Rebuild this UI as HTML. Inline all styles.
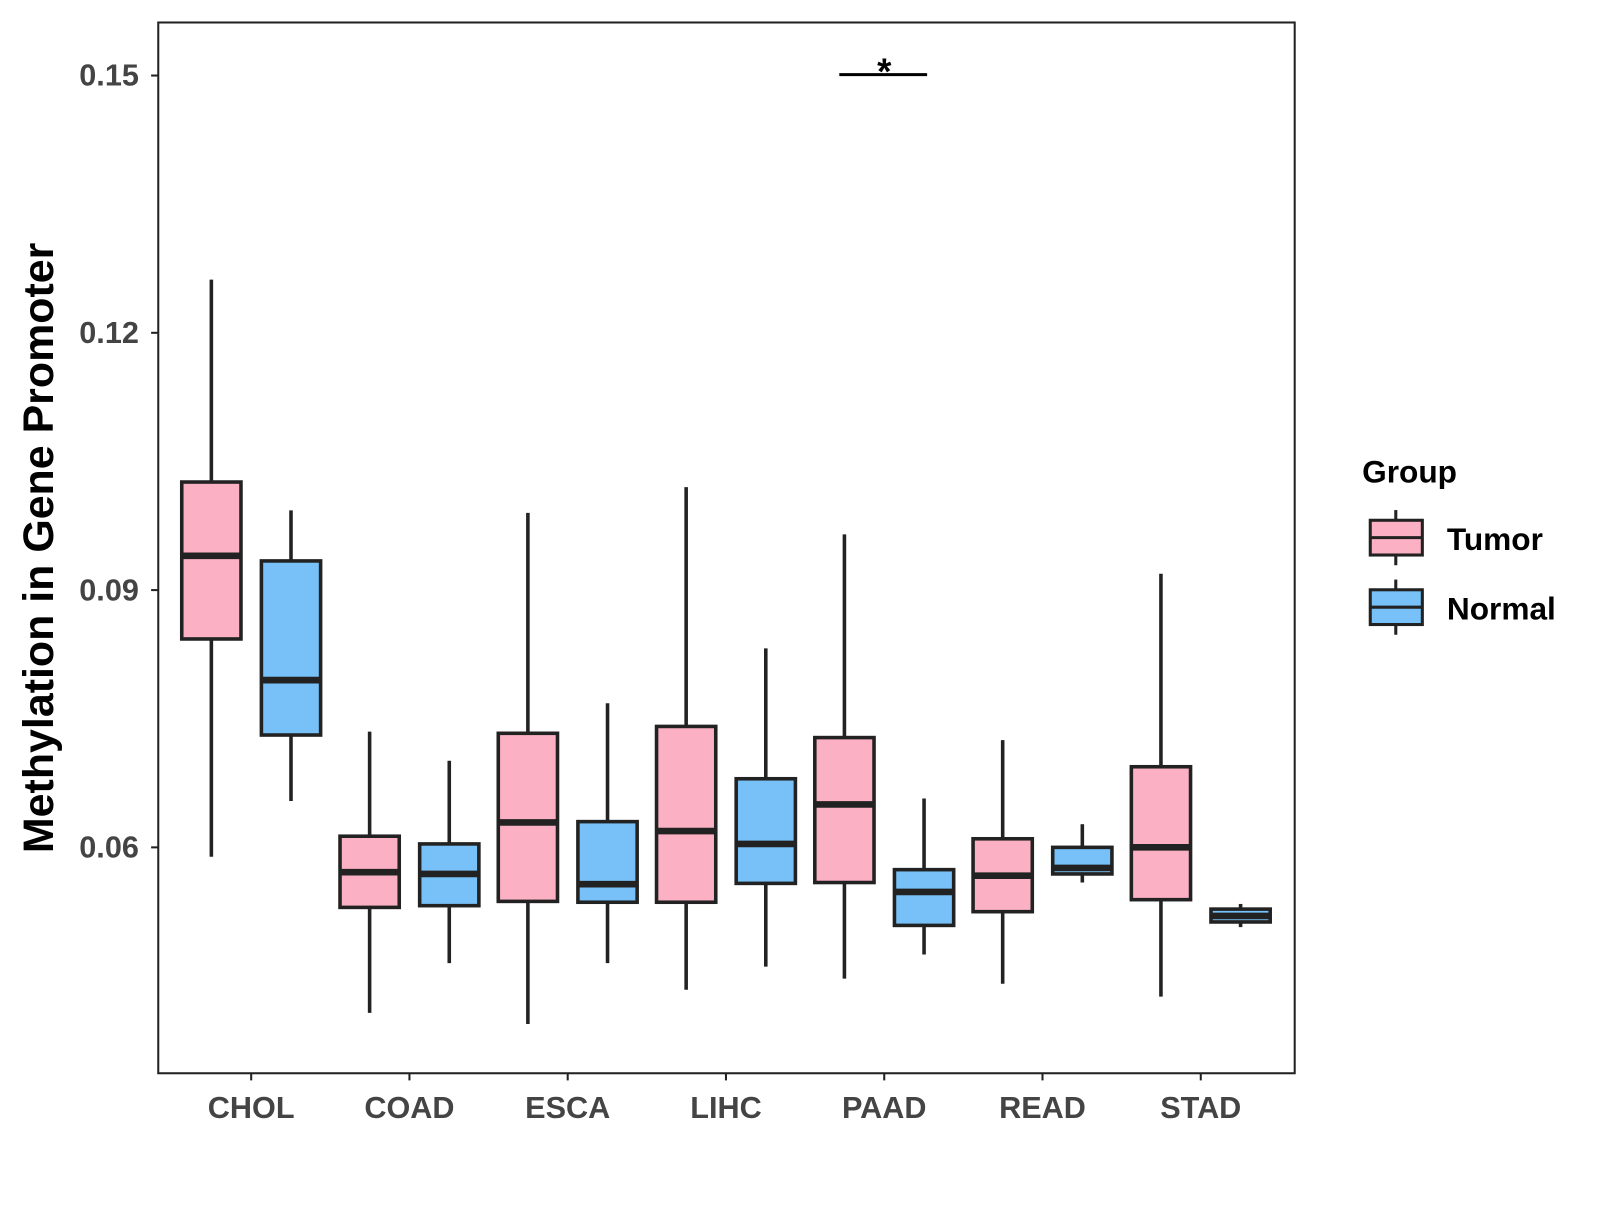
<!DOCTYPE html>
<html><head><meta charset="utf-8"><style>
body{margin:0;background:#fff;}
svg text{font-family:"Liberation Sans",Arial,sans-serif;font-weight:bold;}
</style></head><body>
<svg id="chart" width="1600" height="1200" viewBox="0 0 1567 1174" preserveAspectRatio="none">
<rect x="155" y="22" width="1113" height="1028" fill="#fff" stroke="#222" stroke-width="2"/>
<g id="yaxis"></g>
<g id="xaxis"></g>
<g id="boxes"></g>
<text x="52" y="536" font-size="42" text-anchor="middle" transform="rotate(-90 52 536)" fill="#000">Methylation in Gene Promoter</text>
<line x1="822" y1="73" x2="908" y2="73" stroke="#000" stroke-width="3"/>
<text x="866" y="82" font-size="36" text-anchor="middle" fill="#000">*</text>
<g>
<text x="1334" y="472" font-size="31" fill="#000">Group</text>
<g>
<line x1="1367" y1="499" x2="1367" y2="553" stroke="#222" stroke-width="3"/>
<rect x="1342" y="509" width="51" height="34" fill="#FBB1C3" stroke="#222" stroke-width="3"/>
<line x1="1342" y1="526" x2="1393" y2="526" stroke="#222" stroke-width="3"/>
<text x="1417" y="538" font-size="31" fill="#000">Tumor</text></g>
<g>
<line x1="1367" y1="567" x2="1367" y2="621" stroke="#222" stroke-width="3"/>
<rect x="1342" y="577" width="51" height="34" fill="#77C1F8" stroke="#222" stroke-width="3"/>
<line x1="1342" y1="594" x2="1393" y2="594" stroke="#222" stroke-width="3"/>
<text x="1417" y="606" font-size="31" fill="#000">Normal</text></g>
</g>
</svg>
<script>
const categories=["CHOL","COAD","ESCA","LIHC","PAAD","READ","STAD"];
const yTicks=[0.06,0.09,0.12,0.15];
const yTickLabels=["0.06","0.09","0.12","0.15"];
// [lowWhisker, q1, median, q3, highWhisker]
const tumorStats=[
[0.0589,0.0843,0.0940,0.1026,0.1262],
[0.0407,0.0530,0.0571,0.0613,0.0735],
[0.0394,0.0537,0.0629,0.0733,0.0990],
[0.0434,0.0536,0.0619,0.0741,0.1020],
[0.0447,0.0559,0.0650,0.0728,0.0965],
[0.0441,0.0525,0.0567,0.0610,0.0725],
[0.0426,0.0539,0.0600,0.0694,0.0919]];
const normalStats=[
[0.0654,0.0731,0.0795,0.0934,0.0993],
[0.0465,0.0532,0.0569,0.0604,0.0701],
[0.0465,0.0536,0.0557,0.0630,0.0768],
[0.0461,0.0558,0.0604,0.0680,0.0832],
[0.0475,0.0509,0.0548,0.0574,0.0657],
[0.0559,0.0569,0.0576,0.0600,0.0627],
[0.0507,0.0513,0.0520,0.0528,0.0534]];
const NS="http://www.w3.org/2000/svg";
function y(v){return 829-(v-0.06)*8390;}
function x(i){return 246+i*155;}
function mk(t,a,p){const e=document.createElementNS(NS,t);for(const k in a)e.setAttribute(k,a[k]);p.appendChild(e);return e;}
const ya=document.getElementById('yaxis'),xa=document.getElementById('xaxis'),bx=document.getElementById('boxes');
yTicks.forEach((v,i)=>{
 const l=mk('line',{x1:148,x2:155,y1:y(v),y2:y(v),stroke:'#222','stroke-width':2},ya);
 
 
 const t=mk('text',{x:136,y:y(v)+10,'font-size':30,'text-anchor':'end',fill:'#444'},ya);
 t.textContent=yTickLabels[i];
 
 
});
categories.forEach((c,i)=>{
 const l=mk('line',{x1:x(i),x2:x(i),y1:1050,y2:1057,stroke:'#222','stroke-width':2},xa);
 
 
 const t=mk('text',{x:x(i),y:1094,'font-size':30,'text-anchor':'middle',fill:'#444'},xa);
 t.textContent=c;
 
 
});
function box(s,cx,fill,name){
 const g=mk('g',{},bx);
 
 
 mk('line',{x1:cx,x2:cx,y1:y(s[0]),y2:y(s[4]),stroke:'#222','stroke-width':3.5},g);
 mk('rect',{x:cx-29,y:y(s[3]),width:58,height:y(s[1])-y(s[3]),fill:fill,stroke:'#222','stroke-width':3.5},g);
 mk('line',{x1:cx-29,x2:cx+29,y1:y(s[2]),y2:y(s[2]),stroke:'#222','stroke-width':6.5},g);
}
categories.forEach((c,i)=>{
 box(tumorStats[i],x(i)-39,'#FBB1C3','box-'+c.toLowerCase()+'-tumor');
 box(normalStats[i],x(i)+39,'#77C1F8','box-'+c.toLowerCase()+'-normal');
});
</script>
</body></html>
